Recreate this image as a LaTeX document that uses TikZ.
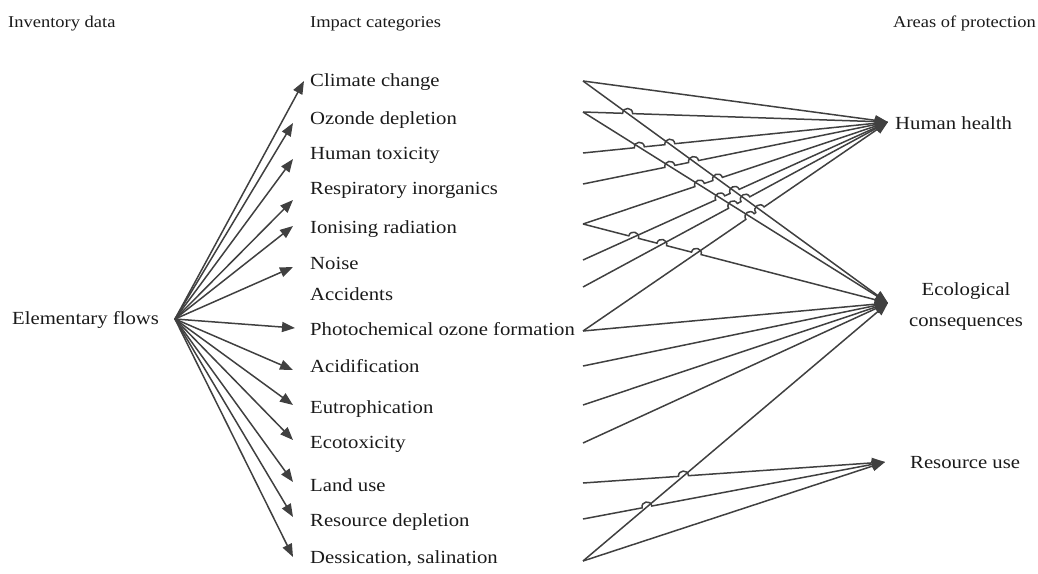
\documentclass[tikz,border=0pt]{standalone}
\usepackage{fontspec}
\setmainfont{Liberation Serif}[FakeStretch=1.12]
\usetikzlibrary{arrows.meta,calc}
\definecolor{linegray}{HTML}{404040}
\definecolor{textblack}{HTML}{1A1A1A}

\begin{document}
\begin{tikzpicture}[x=1pt,y=1pt,
  link/.style={draw=linegray, line width=1.5pt},
  conn/.style={link, -{Triangle[length=13pt,width=10pt]}},
  hop/.style={bend left=90, looseness=1.7},
  label/.style={inner sep=0pt, text=textblack, font=\fontsize{18.5}{31}\selectfont},
  cat/.style={label, anchor=mid west},
  head/.style={inner sep=0pt, anchor=mid west, text=textblack, font=\fontsize{16.5}{20}\selectfont},
]
\useasboundingbox (0,0) rectangle (1038,-573);

% column headings
\node[head] (hInv) at (8,-25) {Inventory data};
\node[head] (hImp) at (310,-25) {Impact categories};
\node[head] (hAop) at (893,-25) {Areas of protection};

% inventory
\node[cat] (ef) at (12,-322) {Elementary flows};
\coordinate (hub) at (175,-319);

% impact categories
\node[cat] (cc) at (310,-84)  {Climate change};
\node[cat] (oz) at (310,-122) {Ozonde depletion};
\node[cat] (ht) at (310,-157) {Human toxicity};
\node[cat] (ri) at (310,-192) {Respiratory inorganics};
\node[cat] (ir) at (310,-231) {Ionising radiation};
\node[cat] (no) at (310,-267) {Noise};
\node[cat] (ax) at (310,-298) {Accidents};
\node[cat] (po) at (310,-333) {Photochemical ozone formation};
\node[cat] (ac) at (310,-370) {Acidification};
\node[cat] (eu) at (310,-411) {Eutrophication};
\node[cat] (et) at (310,-446) {Ecotoxicity};
\node[cat] (lu) at (310,-489) {Land use};
\node[cat] (rd) at (310,-524) {Resource depletion};
\node[cat] (ds) at (310,-561) {Dessication, salination};

% arrow ends in front of the categories
\coordinate (tCC) at (304,-81);
\coordinate (tOZ) at (293,-123);
\coordinate (tHT) at (293,-159);
\coordinate (tRI) at (293,-200);
\coordinate (tIR) at (293,-226);
\coordinate (tNO) at (293,-267);
\coordinate (tPO) at (295,-328);
\coordinate (tAC) at (293,-370);
\coordinate (tEU) at (293,-405);
\coordinate (tET) at (293,-440);
\coordinate (tLU) at (293,-482);
\coordinate (tRD) at (293,-517);
\coordinate (tDS) at (293,-557);

% outgoing points behind the categories
\coordinate (oCC) at (583,-81);
\coordinate (oOZ) at (583,-112);
\coordinate (oHT) at (583,-153);
\coordinate (oRI) at (583,-184);
\coordinate (oIR) at (583,-224);
\coordinate (oNO) at (583,-260);
\coordinate (oAX) at (583,-287);
\coordinate (oPO) at (583,-331);
\coordinate (oAC) at (583,-366);
\coordinate (oEU) at (583,-405);
\coordinate (oET) at (583,-443);
\coordinate (oLU) at (583,-483);
\coordinate (oRD) at (583,-519);
\coordinate (oDS) at (583,-561);

% areas of protection
\node[cat] (hhl) at (895,-127) {Human health};
\node[label, align=center] (ecol) at (966,-307) {Ecological\\consequences};
\node[cat] (rul) at (910,-466) {Resource use};
\coordinate (hh)  at (888,-122);
\coordinate (eco) at (888,-303);
\coordinate (ru)  at (885,-462);

% inventory -> categories
\foreach \t in {tCC,tOZ,tHT,tRI,tIR,tNO,tPO,tAC,tEU,tET,tLU,tRD,tDS}
  \draw[conn] (hub) -- (\t);

% crossing points where a connector jumps over another
\coordinate (a1) at (intersection of oOZ--hh and oCC--eco);
\coordinate (b1) at (intersection of oHT--hh and oOZ--eco);
\coordinate (b2) at (intersection of oHT--hh and oCC--eco);
\coordinate (c1) at (intersection of oRI--hh and oOZ--eco);
\coordinate (c2) at (intersection of oRI--hh and oCC--eco);
\coordinate (d1) at (intersection of oIR--hh and oOZ--eco);
\coordinate (d2) at (intersection of oIR--hh and oCC--eco);
\coordinate (e1) at (intersection of oNO--hh and oOZ--eco);
\coordinate (e2) at (intersection of oNO--hh and oCC--eco);
\coordinate (f1) at (intersection of oAX--hh and oOZ--eco);
\coordinate (f2) at (intersection of oAX--hh and oCC--eco);
\coordinate (g1) at (intersection of oPO--hh and oOZ--eco);
\coordinate (g2) at (intersection of oPO--hh and oCC--eco);
\coordinate (k1) at (intersection of oIR--eco and oNO--hh);
\coordinate (k2) at (intersection of oIR--eco and oAX--hh);
\coordinate (k3) at (intersection of oIR--eco and oPO--hh);
\coordinate (m1) at (intersection of oLU--ru and oDS--eco);
\coordinate (n1) at (intersection of oRD--ru and oDS--eco);

% categories -> human health
\draw[conn] (oCC) -- (hh);
\draw[conn] (oOZ) -- ($(a1)!5pt!(oOZ)$) to[hop] ($(a1)!5pt!(hh)$) -- (hh);
\draw[conn] (oHT) -- ($(b1)!5pt!(oHT)$) to[hop] ($(b1)!5pt!(hh)$)
                  -- ($(b2)!5pt!(oHT)$) to[hop] ($(b2)!5pt!(hh)$) -- (hh);
\draw[conn] (oRI) -- ($(c1)!5pt!(oRI)$) to[hop] ($(c1)!5pt!(hh)$)
                  -- ($(c2)!5pt!(oRI)$) to[hop] ($(c2)!5pt!(hh)$) -- (hh);
\draw[conn] (oIR) -- ($(d1)!5pt!(oIR)$) to[hop] ($(d1)!5pt!(hh)$)
                  -- ($(d2)!5pt!(oIR)$) to[hop] ($(d2)!5pt!(hh)$) -- (hh);
\draw[conn] (oNO) -- ($(e1)!5pt!(oNO)$) to[hop] ($(e1)!5pt!(hh)$)
                  -- ($(e2)!5pt!(oNO)$) to[hop] ($(e2)!5pt!(hh)$) -- (hh);
\draw[conn] (oAX) -- ($(f1)!5pt!(oAX)$) to[hop] ($(f1)!5pt!(hh)$)
                  -- ($(f2)!5pt!(oAX)$) to[hop] ($(f2)!5pt!(hh)$) -- (hh);
\draw[conn] (oPO) -- ($(g1)!5pt!(oPO)$) to[hop] ($(g1)!5pt!(hh)$)
                  -- ($(g2)!5pt!(oPO)$) to[hop] ($(g2)!5pt!(hh)$) -- (hh);

% categories -> ecological consequences
\draw[conn] (oCC) -- (eco);
\draw[conn] (oOZ) -- (eco);
\draw[conn] (oIR) -- ($(k1)!5pt!(oIR)$) to[hop] ($(k1)!5pt!(eco)$)
                  -- ($(k2)!5pt!(oIR)$) to[hop] ($(k2)!5pt!(eco)$)
                  -- ($(k3)!5pt!(oIR)$) to[hop] ($(k3)!5pt!(eco)$) -- (eco);
\draw[conn] (oPO) -- (eco);
\draw[conn] (oAC) -- (eco);
\draw[conn] (oEU) -- (eco);
\draw[conn] (oET) -- (eco);
\draw[conn] (oDS) -- (eco);

% categories -> resource use
\draw[conn] (oLU) -- ($(m1)!5pt!(oLU)$) to[hop] ($(m1)!5pt!(ru)$) -- (ru);
\draw[conn] (oRD) -- ($(n1)!5pt!(oRD)$) to[hop] ($(n1)!5pt!(ru)$) -- (ru);
\draw[conn] (oDS) -- (ru);
\end{tikzpicture}
\end{document}
